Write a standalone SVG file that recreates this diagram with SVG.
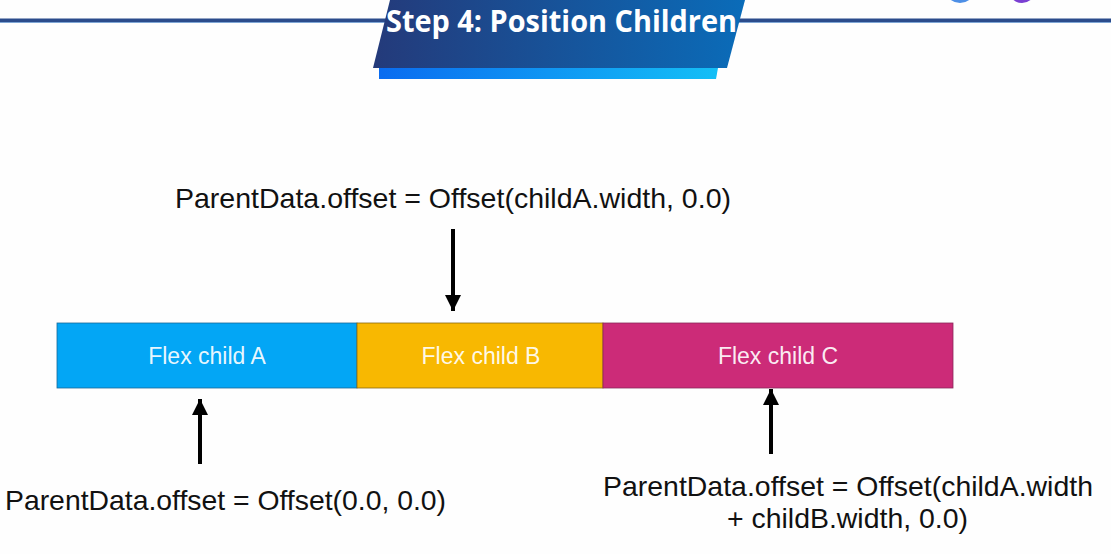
<svg xmlns="http://www.w3.org/2000/svg" width="1111" height="554" viewBox="0 0 1111 554">
  <defs>
    <linearGradient id="banner" x1="0" y1="0" x2="1" y2="0">
      <stop offset="0" stop-color="#243a7a"/>
      <stop offset="1" stop-color="#0a6cb9"/>
    </linearGradient>
    <linearGradient id="bar" x1="0" y1="0" x2="1" y2="0">
      <stop offset="0" stop-color="#0a6cf0"/>
      <stop offset="1" stop-color="#14bff6"/>
    </linearGradient>
    <marker id="arrow" viewBox="0 0 10 10" refX="10" refY="5" markerWidth="4" markerHeight="4" markerUnits="strokeWidth" orient="auto">
      <path d="M0,0 L10,5 L0,10 Z" fill="#000"/>
    </marker>
    <style>
      .lbl { font-family: "Liberation Sans", Arial, sans-serif; font-size: 28px; fill: #111; }
      .box-t { font-family: "Liberation Sans", Arial, sans-serif; font-size: 23px; fill: #fff; fill-opacity: 0.92; text-anchor: middle; }
      .conn { stroke: #000; stroke-width: 4; fill: none; marker-end: url(#arrow); }
    </style>
  </defs>
  <rect width="1111" height="554" fill="#fefefe"/>

  <g id="header">
    <ellipse cx="960" cy="-7" rx="13" ry="10" fill="#4d8fe6"/>
    <ellipse cx="1022" cy="-7" rx="12" ry="10" fill="#7a3fd2"/>
    <rect x="0" y="18.5" width="1111" height="4" fill="#2b4c8c"/>
    <rect x="0" y="22" width="1111" height="1" fill="#6fa7e0" fill-opacity="0.6"/>
    <polygon points="379,68 718,68 716,79 379,79" fill="url(#bar)"/>
    <polygon points="390,0 745,0 727,68 373,68" fill="url(#banner)"/>
    <text x="386" y="32" font-family="Open Sans, 'Liberation Sans', sans-serif" font-weight="bold" font-size="30" fill="#fff" textLength="351" lengthAdjust="spacingAndGlyphs">Step 4: Position Children</text>
  </g>

  <g id="childA">
    <rect x="57" y="323" width="300" height="65" fill="#03a6f5" stroke="#1a6a9a" stroke-width="0.8"/>
    <text class="box-t" x="207" y="364">Flex child A</text>
  </g>
  <g id="childB">
    <rect x="357" y="323" width="246" height="65" fill="#f8b801" stroke="#8a6a10" stroke-width="0.8"/>
    <text class="box-t" x="481" y="364">Flex child B</text>
  </g>
  <g id="childC">
    <rect x="603" y="323" width="350" height="65" fill="#cc2b78" stroke="#8a2a5a" stroke-width="0.8"/>
    <text class="box-t" x="778" y="364">Flex child C</text>
  </g>

  <g id="labelB">
    <text class="lbl" x="175" y="208" textLength="556" lengthAdjust="spacingAndGlyphs">ParentData.offset = Offset(childA.width, 0.0)</text>
  </g>
  <g id="labelA">
    <text class="lbl" x="5" y="510" textLength="441" lengthAdjust="spacingAndGlyphs">ParentData.offset = Offset(0.0, 0.0)</text>
  </g>
  <g id="labelC">
    <text class="lbl" x="603" y="496" textLength="490" lengthAdjust="spacingAndGlyphs">ParentData.offset = Offset(childA.width</text>
    <text class="lbl" x="727" y="528" textLength="241" lengthAdjust="spacingAndGlyphs">+ childB.width, 0.0)</text>
  </g>

  <g id="connectors">
    <line class="conn" x1="453" y1="229" x2="453" y2="311"/>
    <line class="conn" x1="200" y1="464" x2="200" y2="399"/>
    <line class="conn" x1="771" y1="454" x2="771" y2="389"/>
  </g>
</svg>
